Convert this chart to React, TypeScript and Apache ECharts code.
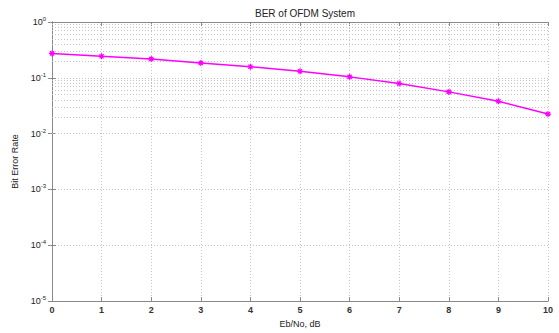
import React, { useEffect, useRef } from "react";
import * as echarts from "echarts";

const ebNo = [0, 1, 2, 3, 4, 5, 6, 7, 8, 9, 10];
const ber = [0.274, 0.243, 0.218, 0.185, 0.158, 0.131, 0.104, 0.079, 0.056, 0.038, 0.0224];
const decades = [-5, -4, -3, -2, -1];
const minorMultipliers = [2, 3, 4, 5, 6, 7, 8, 9];

const FONT = "'Liberation Sans', Arial, sans-serif";

export default function App() {
  const ref = useRef<HTMLDivElement>(null);
  useEffect(() => {
    if (!ref.current) return;
    const chart = echarts.init(ref.current, undefined, { renderer: "svg" });
    const minorLines: any[] = [];
    decades.forEach((d) => {
      minorMultipliers.forEach((m) => {
        minorLines.push({ yAxis: m * Math.pow(10, d) });
      });
    });
    const gridStyle = { color: "#c4c4c4", type: [1, 2] as any, width: 1 };
    const axisLine = { show: true, lineStyle: { color: "#888", width: 1 } };
    chart.setOption({
      animation: false,
      backgroundColor: "#fff",
      title: {
        text: "BER of OFDM System",
        left: 300,
        textAlign: "center",
        top: 3,
        textStyle: { fontFamily: FONT, fontSize: 10, fontWeight: "normal", color: "#222" },
      },
      grid: { left: 52, right: 11, top: 22, bottom: 24, show: false },
      xAxis: [
        {
          type: "value",
          min: 0,
          max: 10,
          interval: 1,
          name: "Eb/No, dB",
          nameLocation: "middle",
          nameGap: 17,
          nameTextStyle: { fontFamily: FONT, fontSize: 9, color: "#222" },
          axisLine,
          axisTick: { show: true, inside: true, length: 4, lineStyle: { color: "#888" } },
          axisLabel: { fontFamily: FONT, fontSize: 9, fontWeight: "bold", color: "#333", margin: 4 },
          splitLine: { show: true, lineStyle: gridStyle },
        },
        {
          type: "value",
          position: "top",
          min: 0,
          max: 10,
          interval: 1,
          axisLine,
          axisTick: { show: true, inside: true, length: 4, lineStyle: { color: "#888" } },
          axisLabel: { show: false },
          splitLine: { show: false },
        },
      ],
      yAxis: [
        {
          type: "log",
          logBase: 10,
          min: 1e-5,
          max: 1,
          name: "Bit Error Rate",
          nameLocation: "middle",
          nameGap: 27,
          nameTextStyle: { fontFamily: FONT, fontSize: 9, color: "#222" },
          axisLine,
          axisTick: { show: true, inside: true, length: 4, lineStyle: { color: "#888" } },
          axisLabel: {
            fontFamily: FONT,
            color: "#222",
            margin: 6,
            formatter: (v: number) => `{b|10}{s|${Math.round(Math.log10(v))}}`,
            rich: {
              b: { fontFamily: FONT, fontSize: 9, color: "#222" },
              s: { fontFamily: FONT, fontSize: 6, color: "#222", verticalAlign: "top", padding: [0, 0, 6, 0] },
            },
          },
          splitLine: { show: true, lineStyle: gridStyle },
        },
        {
          type: "log",
          logBase: 10,
          min: 1e-5,
          max: 1,
          position: "right",
          axisLine,
          axisTick: { show: true, inside: true, length: 4, lineStyle: { color: "#888" } },
          axisLabel: { show: false },
          splitLine: { show: false },
        },
      ],
      series: [
        {
          type: "line",
          data: ebNo.map((x, i) => [x, ber[i]]),
          xAxisIndex: 0,
          yAxisIndex: 0,
          lineStyle: { color: "#ff00ff", width: 1.5 },
          itemStyle: { color: "#ff00ff", borderColor: "#ff00ff", borderWidth: 1.2 },
          symbol: "path://M0,5L10,5M5,0L5,10M1.5,1.5L8.5,8.5M8.5,1.5L1.5,8.5",
          symbolSize: 6,
          showSymbol: true,
          markLine: {
            silent: true,
            symbol: ["none", "none"],
            label: { show: false },
            lineStyle: gridStyle,
            data: minorLines,
            z: 1,
          },
          z: 5,
        },
      ],
    });
    return () => chart.dispose();
  }, []);
  return (
    <div
      ref={ref}
      style={{ position: "fixed", left: 0, top: 0, width: 559, height: 333, background: "#fff" }}
    />
  );
}
